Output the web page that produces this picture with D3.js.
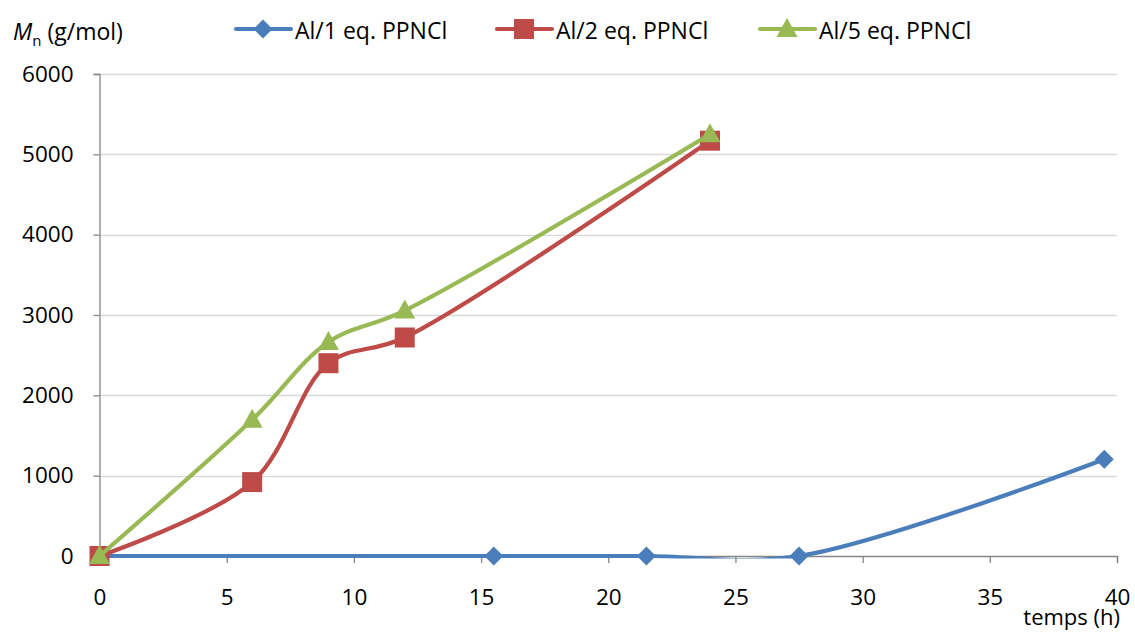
<!DOCTYPE html>
<html><head><meta charset="utf-8">
<script src="https://cdn.jsdelivr.net/npm/d3@7"></script>
<style>body{margin:0;background:#fff}svg{display:block}text{font-family:"Open Sans",sans-serif;fill:#000}</style>
</head><body>
<script>
const xTicks = [0,5,10,15,20,25,30,35,40];
const yTicks = [0,1000,2000,3000,4000,5000,6000];
const s1x = [0,15.5,21.5,27.5,39.5];
const s1y = [0,0,0,0,1205];
const s2x = [0,6,9,12,24];
const s2y = [0,920,2400,2720,5170];
const s3x = [0,6,9,12,24];
const s3y = [0,1695,2665,3055,5250];
const names = ["Al/1 eq. PPNCl","Al/2 eq. PPNCl","Al/5 eq. PPNCl"];
const colors = ["#4a7ebb","#be4b48","#98b954"];
const markers = ["diamond","square","triangle"];

const W=1135,H=633;
const svg=d3.select("body").append("svg").attr("width",W).attr("height",H);
const x=d3.scaleLinear().domain([0,40]).range([99.5,1117]);
const y=d3.scaleLinear().domain([0,6000]).range([556,74]);
const FF="'Open Sans',sans-serif";

svg.append("defs").append("clipPath").attr("id","plotclip").append("rect")
 .attr("x",x(0)-5).attr("y",y(6000)-5).attr("width",x(40)-x(0)+10).attr("height",y(0)-y(6000)+7.5);

// gridlines
svg.append("g").selectAll("line").data(yTicks.filter(d=>d>0)).join("line")
 .attr("x1",x(0)).attr("x2",x(40)).attr("y1",d=>Math.round(y(d))+0.5).attr("y2",d=>Math.round(y(d))+0.5)
 .attr("stroke","#d9d9d9").attr("stroke-width",1.3);

// y axis
const ya=svg.append("g").attr("transform",`translate(${x(0)},0)`)
 .call(d3.axisLeft(y).tickValues(yTicks).tickSize(6).tickPadding(20).tickFormat(d3.format("d")));
ya.select(".domain").attr("stroke","#868686").attr("stroke-width",1.3);
ya.selectAll(".tick line").attr("stroke","#868686").attr("stroke-width",1.3);
ya.selectAll("text").attr("font-size",22.5).style("font-family",FF).attr("fill","#000");
// x axis
const xa=svg.append("g").attr("transform",`translate(0,${y(0)})`)
 .call(d3.axisBottom(x).tickValues(xTicks).tickSize(7).tickPadding(26).tickFormat(d3.format("d")));
xa.select(".domain").attr("stroke","#868686").attr("stroke-width",1.3);
xa.selectAll(".tick line").attr("stroke","#868686").attr("stroke-width",1.3);
xa.selectAll("text").attr("font-size",22.5).style("font-family",FF).attr("fill","#000");

const series=[[s1x,s1y],[s2x,s2y],[s3x,s3y]];
const line=d3.line().x(d=>x(d[0])).y(d=>y(d[1])).curve(d3.curveCatmullRom.alpha(0.5));
function markerPath(m){ return m==="diamond"? "M0,-9.5L9.5,0L0,9.5L-9.5,0Z" : m==="square" ? "M-10,-10H10V10H-10Z" : "M0,-11L10.5,8H-10.5Z"; }
series.forEach((s,i)=>{
  const pts=s[0].map((v,j)=>[v,s[1][j]]);
  svg.append("path").datum(pts).attr("d",line).attr("clip-path","url(#plotclip)").attr("fill","none").attr("stroke",colors[i]).attr("stroke-width",4.2).attr("stroke-linejoin","round");
  svg.append("g").selectAll("path").data(pts).join("path")
   .attr("transform",d=>`translate(${x(d[0])},${y(d[1])})`).attr("d",markerPath(markers[i])).attr("fill",colors[i]);
});

// legend
const lx=[236,497,760];
names.forEach((n,i)=>{
  const g=svg.append("g").attr("transform",`translate(${lx[i]},29)`);
  g.append("line").attr("x1",0).attr("x2",55).attr("stroke",colors[i]).attr("stroke-width",4.2).attr("stroke-linecap","round");
  g.append("path").attr("transform","translate(27,0)").attr("d",markerPath(markers[i])).attr("fill",colors[i]);
  g.append("text").attr("x",59).attr("y",10).attr("font-size",23).text(n);
});

// y title
const t=svg.append("text").attr("x",13).attr("y",40).attr("font-size",23);
t.append("tspan").attr("font-style","italic").text("M");
t.append("tspan").attr("font-size",15).attr("dy",6).text("n");
t.append("tspan").attr("dy",-6).text(" (g/mol)");
// x title
svg.append("text").attr("x",1120).attr("y",625).attr("text-anchor","end").attr("font-size",22).text("temps (h)");
</script>
</body></html>
